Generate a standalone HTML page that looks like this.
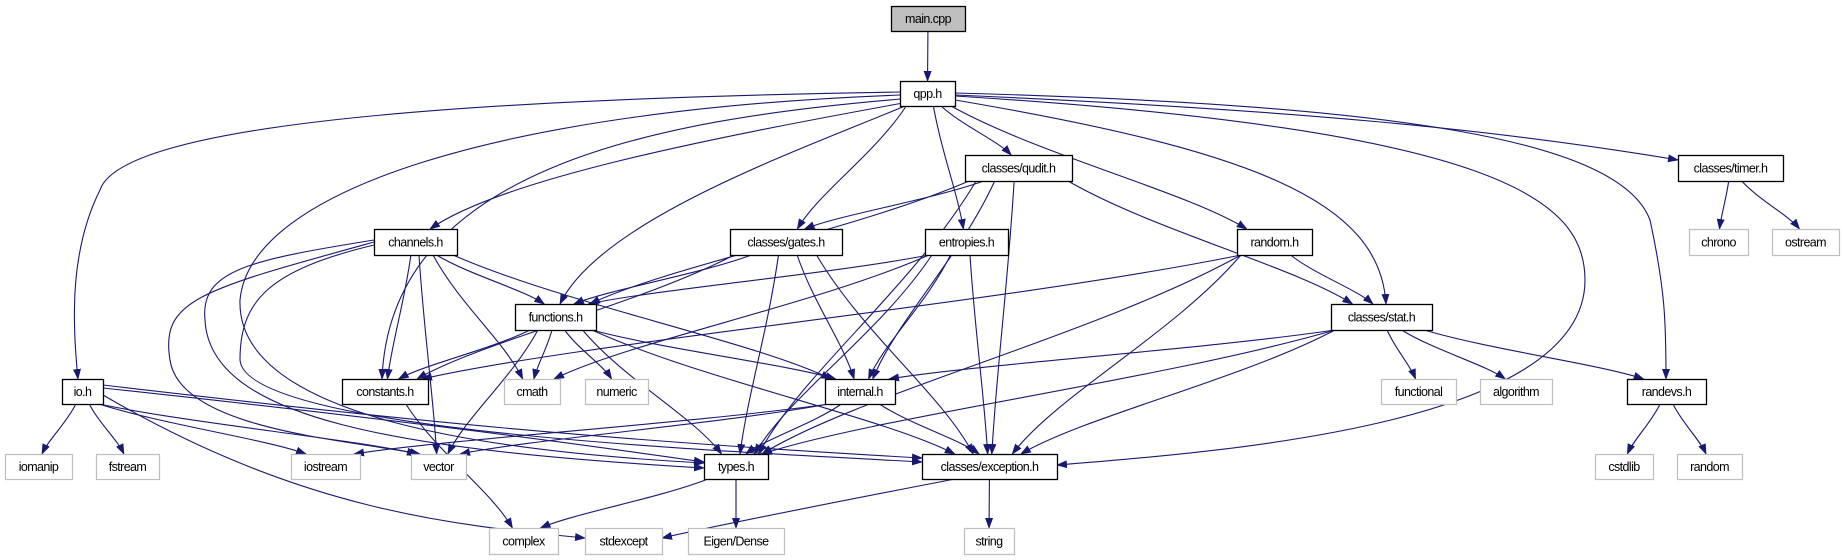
<!DOCTYPE html>
<html><head><meta charset="utf-8"><style>
html,body{margin:0;padding:0;background:#fff;}
svg{display:block;}
text{font-family:"Liberation Sans",sans-serif;font-size:12.5px;letter-spacing:-0.6px;fill:#000;}
</style></head><body>
<svg id="g" width="1844" height="560" xmlns="http://www.w3.org/2000/svg">
<defs><marker id="a" markerWidth="11" markerHeight="8" refX="10" refY="4" orient="auto" markerUnits="userSpaceOnUse"><path d="M0,0 L11,4 L0,8 z" fill="#191970"/></marker></defs>
<g id="e" fill="none" stroke="#191970" stroke-width="1.1"></g>
<g id="n"></g>
</svg>
<script>
var N={
main:[891,965,6,31,"main.cpp",2],qpp:[900,955,81,106,"qpp.h",1],
qudit:[965,1072,155,181,"classes/qudit.h",1],timer:[1678,1783,155,181,"classes/timer.h",1],
channels:[374,457,229,255,"channels.h",1],gates:[730,842,229,255,"classes/gates.h",1],
entropies:[925,1008,229,255,"entropies.h",1],randomh:[1237,1312,229,255,"random.h",1],
chrono:[1689,1748,229,255,"chrono",0],ostream:[1772,1839,229,255,"ostream",0],
functions:[515,596,304,330,"functions.h",1],stat:[1331,1432,304,330,"classes/stat.h",1],
io:[62,103,379,404,"io.h",1],constants:[342,428,379,404,"constants.h",1],
cmath:[504,560,379,404,"cmath",0],numeric:[585,648,379,404,"numeric",0],
internal:[825,895,379,404,"internal.h",1],functional:[1381,1456,379,404,"functional",0],
algorithm:[1480,1552,379,404,"algorithm",0],randevs:[1627,1706,379,404,"randevs.h",1],
iomanip:[5,72,454,479,"iomanip",0],fstream:[96,159,454,479,"fstream",0],
iostream:[291,360,454,479,"iostream",0],vector:[411,466,454,479,"vector",0],
types:[704,768,454,479,"types.h",1],exception:[922,1057,454,479,"classes/exception.h",1],
cstdlib:[1595,1653,454,479,"cstdlib",0],random:[1677,1742,454,479,"random",0],
complex:[489,558,528,554,"complex",0],stdexcept:[585,662,528,554,"stdexcept",0],
eigen:[688,784,528,554,"Eigen/Dense",0],string:[964,1014,528,554,"string",0]};
var custom=[
"M900,92 C400,100 120,130 100,190 C70,250 72,320 78,379",
"M900,95 C500,110 250,190 240,300 C236,420 500,452 704,463",
"M901,99 C650,120 390,170 382,379",
"M903,103 C700,140 500,180 430,229",
"M905,106 C800,150 600,220 560,304",
"M955,100 C1250,150 1380,200 1386,304",
"M955,96 C1500,130 1585,200 1585,280 C1585,420 1250,450 1057,465",
"M955,95 C1300,110 1500,130 1678,160",
"M955,93 C1400,105 1620,140 1650,220 C1665,290 1666,320 1666,379",
"M374,240 C250,260 200,270 205,320 C210,420 400,450 704,468",
"M374,245 C270,270 240,300 240,360 C245,430 700,450 922,462",
"M374,242 C200,290 160,300 170,360 C180,430 350,440 420,454",
"M103,385 C400,420 600,440 922,458",
"M103,388 C400,420 550,440 704,462",
"M103,395 C300,510 450,525 585,538",
"M955,479 C820,505 720,525 662,538"
];
var E=[["main","qpp"],["qpp","gates"],["qpp","entropies"],["qpp","qudit"],["qpp","randomh"],
["qudit","gates"],["qudit","functions"],["qudit","internal"],["qudit","types"],["qudit","exception"],["qudit","stat"],
["channels","functions"],["channels","constants"],["channels","cmath"],["channels","internal"],["channels","vector"],
["gates","functions"],["gates","constants"],["gates","types"],["gates","internal"],["gates","exception"],
["entropies","functions"],["entropies","cmath"],["entropies","internal"],["entropies","types"],["entropies","exception"],
["randomh","stat"],["randomh","constants"],["randomh","types"],["randomh","exception"],
["functions","constants"],["functions","cmath"],["functions","numeric"],["functions","internal"],["functions","types"],["functions","vector"],["functions","exception"],
["constants","complex"],["stat","internal"],["stat","types"],["stat","exception"],["stat","functional"],["stat","algorithm"],["stat","randevs"],
["timer","chrono"],["timer","ostream"],["randevs","cstdlib"],["randevs","random"],
["io","iomanip"],["io","fstream"],["io","iostream"],["io","vector"],
["internal","types"],["internal","exception"],["internal","iostream"],["internal","vector"],
["types","complex"],["types","eigen"],["exception","string"]];
var ns="http://www.w3.org/2000/svg",eg=document.getElementById("e"),ng=document.getElementById("n");
function cl(v,a,b){return Math.max(a,Math.min(b,v));}
function add(d){var p=document.createElementNS(ns,"path");p.setAttribute("d",d);p.setAttribute("marker-end","url(#a)");eg.appendChild(p);}
custom.forEach(add);
E.forEach(function(e){var s=N[e[0]],t=N[e[1]];
var sc=(s[0]+s[1])/2,tc=(t[0]+t[1])/2;
var x0=cl(sc+(tc-sc)*0.15,s[0]+4,s[1]-4),y0=s[3];
var x3=cl(tc+(sc-tc)*0.08,t[0]+6,t[1]-6),y3=t[2];
var dy=y3-y0;
add("M"+x0+","+y0+" C"+(x0+(x3-x0)*0.3)+","+(y0+dy*0.4)+" "+(x3-(x3-x0)*0.2)+","+(y3-dy*0.3)+" "+x3+","+y3);});
for(var k in N){var v=N[k];var r=document.createElementNS(ns,"rect");
r.setAttribute("x",v[0]+0.5);r.setAttribute("y",v[2]+0.5);r.setAttribute("width",v[1]-v[0]);r.setAttribute("height",v[3]-v[2]);
r.setAttribute("fill",v[5]==2?"#bfbfbf":"#fff");r.setAttribute("stroke",v[5]==0?"#bfbfbf":"#000");r.setAttribute("stroke-width",v[5]==0?1.2:1.3);
ng.appendChild(r);var t=document.createElementNS(ns,"text");t.setAttribute("x",(v[0]+v[1])/2);t.setAttribute("y",(v[2]+v[3])/2+4.5);
t.setAttribute("text-anchor","middle");t.textContent=v[4];ng.appendChild(t);}
</script>
</body></html>
